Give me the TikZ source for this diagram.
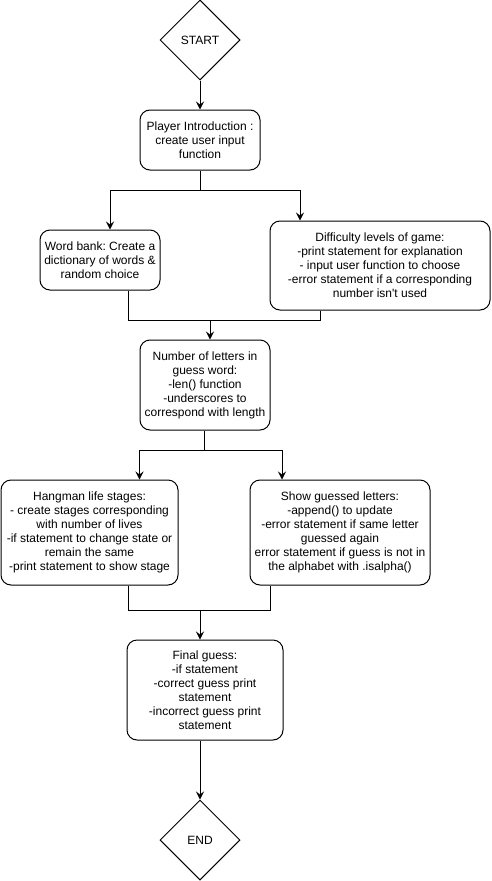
\documentclass[tikz,border=0pt]{standalone}
\usepackage{fontspec}
\setmainfont{Liberation Sans}[Ligatures=TeXOff]
\usetikzlibrary{shapes.geometric,arrows.meta}
\frenchspacing
\begin{document}
\begin{tikzpicture}[x=1pt,y=-1pt,
  every node/.style={font=\fontsize{12}{14}\selectfont, align=center},
  procbox/.style={draw, line width=1pt, rounded corners=10pt, inner sep=0pt},
  termbox/.style={draw, line width=1pt, diamond, aspect=1, inner sep=0pt, minimum size=80pt},
  link/.style={draw, line width=1pt},
  arr/.style={link, -{Stealth[length=8pt,width=8pt,inset=3pt]}}]
\useasboundingbox (0,0) rectangle (491,881);

% terminals
\node[termbox] (start) at (200,40) {START};
\node[termbox] (end) at (200,840) {END};

% process steps
\node[procbox, minimum width=120pt, minimum height=60pt] (intro) at (200,140)
  {Player Introduction :\\create user input\\function};
\node[procbox, minimum width=120pt, minimum height=60pt] (wb) at (100,260)
  {Word bank: Create a\\dictionary of words \&\\random choice};
\node[procbox, minimum width=220pt, minimum height=89pt] (diff) at (380,265.5)
  {Difficulty levels of game:\\-print statement for explanation\\- input user function to choose\\-error statement if a corresponding\\number isn't used};
\node[procbox, minimum width=130pt, minimum height=90pt] (num) at (205,385)
  {Number of letters in\\guess word:\\-len() function\\-underscores to\\correspond with length};
\node[procbox, minimum width=177pt, minimum height=105pt] (hang) at (89.5,532.5)
  {Hangman life stages:\\- create stages corresponding\\with number of lives\\-if statement to change state or\\remain the same\\-print statement to show stage};
\node[procbox, minimum width=180pt, minimum height=105pt] (show) at (340,532.5)
  {Show guessed letters:\\-append() to update\\-error statement if same letter\\guessed again\\error statement if guess is not in\\the alphabet with .isalpha()};
\node[procbox, minimum width=156pt, minimum height=100pt] (final) at (205,690)
  {Final guess:\\-if statement\\-correct guess print\\statement\\-incorrect guess print\\statement};

% junction points of the branching and merging connectors
\coordinate (s1) at (200,190);
\coordinate (m1) at (210,320);
\coordinate (s2) at (204,450);
\coordinate (m2) at (200,610);

% connectors
\draw[arr] (start) -- (intro);
\draw[link] (intro.south) -- (s1);
\draw[arr] (s1) -| ([xshift=10pt]wb.north);
\draw[arr] (s1) -| ([xshift=-80pt]diff.north);

\draw[link] ([xshift=28pt]wb.south) |- (m1);
\draw[link] ([xshift=-60pt]diff.south) |- (m1);
\draw[arr] (m1) -- (m1 |- num.north);

\draw[link] (num.south -| s2) -- (s2);
\draw[arr] (s2) -| ([xshift=50pt]hang.north);
\draw[arr] (s2) -| ([xshift=-58pt]show.north);

\draw[link] ([xshift=38.5pt]hang.south) |- (m2);
\draw[link] ([xshift=-70pt]show.south) |- (m2);
\draw[arr] (m2) -- (m2 |- final.north);

\draw[arr] (final.south -| end) -- (end);
\end{tikzpicture}
\end{document}
